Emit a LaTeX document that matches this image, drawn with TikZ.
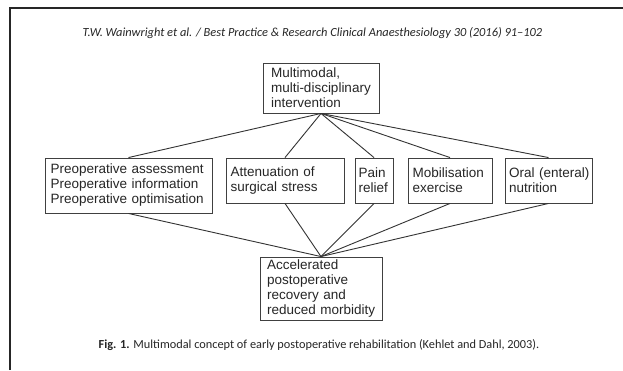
\documentclass[tikz,border=0pt]{standalone}
\usepackage{fontspec}
\setmainfont{Liberation Sans}
\newfontfamily\capfont[Ligatures=TeX]{Carlito}
\begin{document}
\begin{tikzpicture}[x=1pt,y=-1pt,
  box/.style={draw=black!75, line width=0.9pt, rectangle, align=left, inner ysep=0pt, inner xsep=4.5pt,
    font={\fontsize{13.5}{15}\selectfont\hyphenpenalty=10000\exhyphenpenalty=10000}, text=black!85},
  conn/.style={draw=black!80, line width=0.9pt}]
\useasboundingbox (0,0) rectangle (623,370);
\fill[white] (0,0) rectangle (623,370);
\draw[line width=2pt, black!85] (10,370) -- (10,8) -- (623,8);

\node[font=\capfont\itshape\fontsize{12.4}{14}\selectfont, text=black!85] (hdr) at (312.5,33)
  {T.W. Wainwright et al. / Best Practice \& Research Clinical Anaesthesiology 30 (2016) 91–102};

\node[box, inner xsep=8pt, text width=100, minimum height=50] (top) at (321,88) {Multimodal,\\multi-disciplinary\\intervention};
\node[box, inner xsep=5.5pt, text width=156, minimum height=55] (b1) at (128.5,185.5) {Preoperative~assessment\\Preoperative~information\\Preoperative~optimisation};
\node[box, text width=109, minimum height=45] (b2) at (285,180.5) {Attenuation~of\\surgical~stress};
\node[box, inner xsep=3.5pt, text width=31, minimum height=45] (b3) at (374,180.5) {Pain\\relief};
\node[box, text width=75, minimum height=45] (b4) at (450,180.5) {Mobilisation\\exercise};
\node[box, inner xsep=4pt, text width=79, minimum height=45] (b5) at (548.5,180.5) {Oral~(enteral)\\nutrition};
\node[box, inner xsep=7pt, text width=108, minimum height=63] (bot) at (321,288.5) {Accelerated\\postoperative\\recovery~and\\reduced~morbidity};

\foreach \b in {b1,b2,b3,b4,b5}{
  \draw[conn] (top.south) -- (\b.north);
  \draw[conn] (\b.south) -- (bot.north);
}

\node[font=\capfont\fontsize{12.3}{14}\selectfont, text=black!85] (cap) at (319,345)
  {\textbf{Fig. 1.} Multimodal concept of early postoperative rehabilitation (Kehlet and Dahl, 2003).};
\end{tikzpicture}
\end{document}
